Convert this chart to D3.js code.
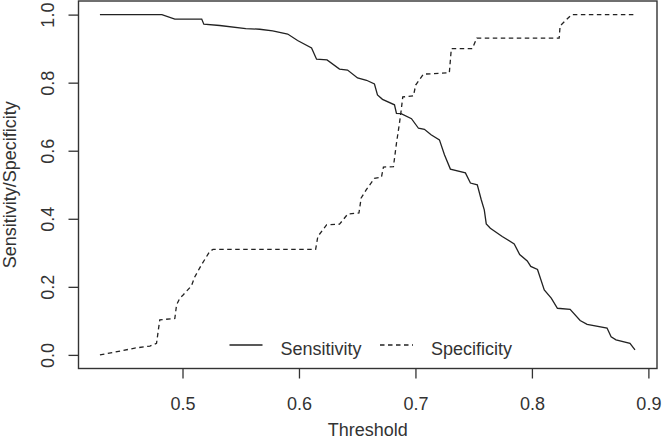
<!DOCTYPE html>
<html>
<head>
<meta charset="utf-8">
<script src="https://cdn.jsdelivr.net/npm/d3@7"></script>
<style>
  html, body { margin: 0; padding: 0; background: #fff; }
  svg text { font-family: "Liberation Sans", Arial, sans-serif; fill: #333; }
</style>
</head>
<body>
<script>
// Sensitivity curve
const sensThreshold = [
  0.4291, 0.4823, 0.4934, 0.5165, 0.5183, 0.532, 0.5543, 0.5663, 0.5774,
  0.5903, 0.5988, 0.6108, 0.6151, 0.6241, 0.6348, 0.6417, 0.6503, 0.658,
  0.6648, 0.6674, 0.6717, 0.682, 0.6837, 0.6877, 0.6966, 0.7026, 0.7077,
  0.7134, 0.7206, 0.7249, 0.73, 0.7429, 0.7472, 0.7531, 0.7565, 0.7591,
  0.7608, 0.7643, 0.7745, 0.7848, 0.7895, 0.796, 0.799, 0.8048, 0.8106,
  0.8166, 0.8219, 0.8328, 0.8414, 0.8474, 0.8645, 0.868, 0.8722, 0.8842,
  0.8885,
];
const sensitivity = [
  1.0, 1.0, 0.987, 0.987, 0.972, 0.968, 0.959, 0.957, 0.952, 0.943, 0.924,
  0.902, 0.869, 0.867, 0.84, 0.837, 0.814, 0.807, 0.796, 0.764, 0.751, 0.735,
  0.71, 0.709, 0.694, 0.666, 0.663, 0.647, 0.632, 0.588, 0.546, 0.535, 0.505,
  0.5, 0.456, 0.426, 0.385, 0.372, 0.348, 0.326, 0.295, 0.276, 0.26, 0.251,
  0.191, 0.167, 0.137, 0.134, 0.101, 0.09, 0.079, 0.053, 0.044, 0.034, 0.015,
];

// Specificity curve
const specThreshold = [
  0.4291, 0.4403, 0.4591, 0.472, 0.4777, 0.4793, 0.4805, 0.4934, 0.4949,
  0.4977, 0.5005, 0.5077, 0.5105, 0.5163, 0.5234, 0.5262, 0.6143, 0.6162,
  0.6237, 0.6348, 0.6419, 0.6515, 0.6534, 0.6577, 0.6648, 0.6708, 0.6725,
  0.6811, 0.6837, 0.6862, 0.6877, 0.6891, 0.6983, 0.7002, 0.7068, 0.7291,
  0.7308, 0.7488, 0.7527, 0.8234, 0.8242, 0.8341, 0.889,
];
const specificity = [
  0.0, 0.007, 0.02, 0.026, 0.034, 0.074, 0.103, 0.107, 0.147, 0.167, 0.176,
  0.203, 0.229, 0.265, 0.304, 0.31, 0.31, 0.348, 0.382, 0.384, 0.414, 0.417,
  0.461, 0.485, 0.519, 0.522, 0.552, 0.553, 0.622, 0.679, 0.717, 0.758,
  0.761, 0.793, 0.825, 0.829, 0.9, 0.9, 0.931, 0.931, 0.967, 1.0, 1.0,
];

const xTicks = [0.5, 0.6, 0.7, 0.8, 0.9];
const yTicks = [0.0, 0.2, 0.4, 0.6, 0.8, 1.0];
const legendLabels = ["Sensitivity", "Specificity"];

const baseWidth = 662,
  baseHeight = 440,
  plot = { left: 78.5, right: 657, top: 1, bottom: 368.5 },
  ink = "#222",
  fontSize = 18;

// R style axis limits: data range padded by 4%
const xExt = d3.extent(sensThreshold.concat(specThreshold)),
  xPad = (xExt[1] - xExt[0]) * 0.04;

const x = d3
    .scaleLinear()
    .domain([xExt[0] - xPad, xExt[1] + xPad])
    .range([plot.left, plot.right]),
  y = d3
    .scaleLinear()
    .domain([-0.04, 1.04])
    .range([plot.bottom, plot.top]);

const svg = d3
  .select("body")
  .append("svg")
  .attr("width", baseWidth)
  .attr("height", baseHeight)
  .style("display", "block");

const line = d3
  .line()
  .x((d) => x(d[0]))
  .y((d) => y(d[1]));

svg
  .append("path")
  .datum(d3.zip(sensThreshold, sensitivity))
  .attr("d", line)
  .attr("fill", "none")
  .attr("stroke", ink)
  .attr("stroke-width", 1.3);

svg
  .append("path")
  .datum(d3.zip(specThreshold, specificity))
  .attr("d", line)
  .attr("fill", "none")
  .attr("stroke", ink)
  .attr("stroke-width", 1.3)
  .attr("stroke-dasharray", "4.5,3.5");

// box
svg
  .append("rect")
  .attr("x", plot.left)
  .attr("y", plot.top)
  .attr("width", plot.right - plot.left)
  .attr("height", plot.bottom - plot.top)
  .attr("fill", "none")
  .attr("stroke", "#333")
  .attr("stroke-width", 1.4);

// x axis
const gx = svg
  .append("g")
  .attr("transform", "translate(0," + plot.bottom + ")")
  .call(
    d3.axisBottom(x).tickValues(xTicks).tickSize(10).tickFormat(d3.format(".1f"))
  );
gx.select(".domain").remove();
gx.selectAll("line").attr("stroke", "#333").attr("stroke-width", 1.3);
gx.selectAll("text")
  .attr("y", 41.5)
  .attr("dy", null)
  .attr("fill", "#333")
  .style("font-size", fontSize + "px");

// y axis, labels rotated like R's las = 0
const gy = svg
  .append("g")
  .attr("transform", "translate(" + plot.left + ",0)")
  .call(
    d3.axisLeft(y).tickValues(yTicks).tickSize(10).tickFormat(d3.format(".1f"))
  );
gy.select(".domain").remove();
gy.selectAll("line").attr("stroke", "#333").attr("stroke-width", 1.3);
gy.selectAll("text")
  .attr("transform", "rotate(-90)")
  .attr("x", 0)
  .attr("y", -24.5)
  .attr("dy", null)
  .attr("text-anchor", "middle")
  .attr("fill", "#333")
  .style("font-size", fontSize + "px");

// axis titles
svg
  .append("text")
  .attr("x", (plot.left + plot.right) / 2)
  .attr("y", 436)
  .attr("text-anchor", "middle")
  .style("font-size", fontSize + "px")
  .text("Threshold");

svg
  .append("text")
  .attr(
    "transform",
    "translate(15.5," + (plot.top + plot.bottom) / 2 + ") rotate(-90)"
  )
  .attr("text-anchor", "middle")
  .style("font-size", fontSize + "px")
  .text("Sensitivity/Specificity");

// legend, horizontal and without a box
const legendX = [229.5, 380],
  legendY = 345;

const legend = svg
  .selectAll(".legend")
  .data(legendLabels)
  .enter()
  .append("g")
  .attr("class", "legend")
  .attr("transform", (d, i) => "translate(" + legendX[i] + "," + legendY + ")");

legend
  .append("line")
  .attr("x1", 0)
  .attr("x2", 33)
  .attr("stroke", ink)
  .attr("stroke-width", 1.3)
  .attr("stroke-dasharray", (d, i) => (i === 1 ? "4.5,3.5" : null));

legend
  .append("text")
  .attr("x", 51)
  .attr("y", 10)
  .style("font-size", fontSize + "px")
  .text((d) => d);
</script>
</body>
</html>
